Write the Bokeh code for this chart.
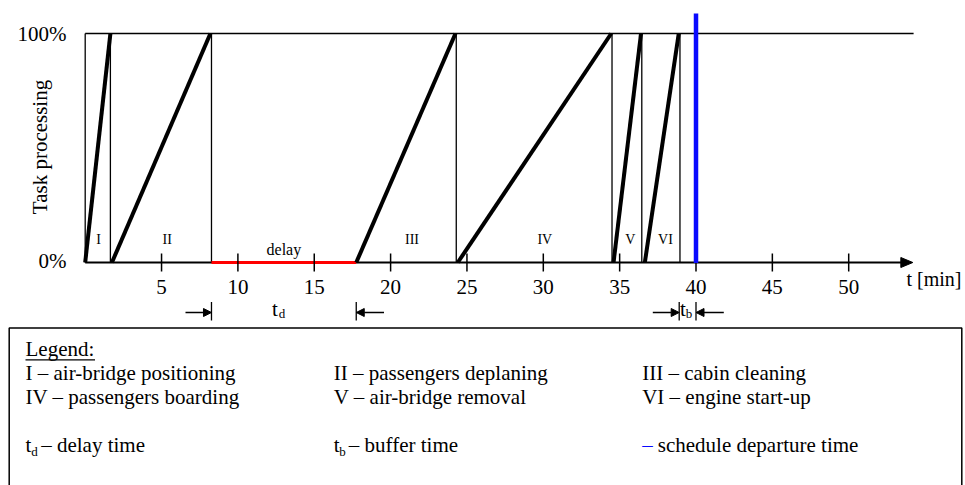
import math
from bokeh.plotting import figure
from bokeh.models import Range1d, Arrow, NormalHead
from bokeh.core.properties import value
from bokeh.embed import file_html
from bokeh.resources import INLINE

# ---------------- data ----------------
phase_labels = ["I", "II", "III", "IV", "V", "VI"]
phase_start = [0.0, 1.75, 17.75, 24.4, 34.6, 36.65]      # min, task begins (0 %)
phase_end = [1.65, 8.2, 24.25, 34.45, 36.4, 38.87]        # min, task completed (100 %)
phase_label_x = [0.87, 5.37, 21.4, 30.1, 35.7, 38.0]
phase_bounds = [0.0, 1.65, 8.27, 24.3, 34.5, 36.45, 38.95]
delay_start = 8.27
delay_end = 17.75
buffer_start = 38.9
departure_time = 40.0
x_ticks = [5, 10, 15, 20, 25, 30, 35, 40, 45, 50]
x_tick_labels = ["5", "10", "15", "20", "25", "30", "35", "40", "45", "50"]
y_ticks = [0, 100]
y_tick_labels = ["0%", "100%"]
axis_end = 54.2
x_axis_title = "t [min]"
y_axis_title = "Task processing"
legend_title = "Legend:"
legend_col1 = ["I \u2013 air-bridge positioning", "IV \u2013 passengers boarding"]
legend_col2 = ["II \u2013 passengers deplaning", "V \u2013 air-bridge removal"]
legend_col3 = ["III \u2013 cabin cleaning", "VI \u2013 engine start-up"]

# ---------------- layout helpers (page pixels -> plot units) ----------------
W, H = 965, 485
OX, OY = 0, 0            # page offset of the canvas
PX0, PXM = 84.7, 15.27   # page x of t=0, px per minute
PY0, PYP = 262.0, 2.29   # page y of 0 %, px per percent


def sx(px):
    return (px - PX0) / PXM


def sy(py):
    return (PY0 - py) / PYP


def ty(baseline_py, size):
    # centre line of a text whose alphabetic baseline is at baseline_py
    return sy(baseline_py - 0.39 * size)


FONT = value("Liberation Serif")
BLACK = "#000000"
BLUE = "#0a0aff"

p = figure(width=W, height=H, output_backend="svg", toolbar_location=None,
           x_range=Range1d(sx(OX), sx(OX + W)), y_range=Range1d(sy(OY + H), sy(OY)),
           x_axis_location=None, y_axis_location=None, min_border=0)
p.grid.visible = False
p.outline_line_color = None
p.background_fill_color = "white"
p.border_fill_color = "white"


def txt(xs, baselines, texts, size, align="left", color=BLACK, angle=0.0):
    p.text(x=xs, y=[ty(b, size) for b in baselines], text=texts, text_font=FONT,
           text_font_size=f"{size}px", text_align=align, text_baseline="middle",
           text_color=color, angle=angle)


# frame of task boxes
p.segment(x0=phase_bounds, y0=[0] * len(phase_bounds), x1=phase_bounds,
          y1=[100] * len(phase_bounds), line_color=BLACK, line_width=1.3)
p.segment(x0=[0], y0=[100], x1=[axis_end + 0.05], y1=[100], line_color=BLACK, line_width=1.5)

# x axis line with arrow
head_len = 12 / PXM
head_half = 5 / PYP
p.segment(x0=[0], y0=[0], x1=[axis_end - head_len + 0.1], y1=[0], line_color=BLACK, line_width=2)
p.patch(x=[axis_end - head_len, axis_end, axis_end - head_len],
        y=[head_half, 0, -head_half], fill_color=BLACK, line_color=BLACK, line_width=1)

# delay (red)
p.segment(x0=[delay_start], y0=[0], x1=[delay_end], y1=[0], line_color="#ff0000", line_width=3)

# ticks
tick_half = 9 / PYP
p.segment(x0=x_ticks, y0=[-tick_half] * len(x_ticks), x1=x_ticks, y1=[tick_half] * len(x_ticks),
          line_color=BLACK, line_width=1.5)

# task progress lines
p.segment(x0=phase_start, y0=[0] * 6, x1=phase_end, y1=[100] * 6, line_color=BLACK, line_width=4)

# scheduled departure (blue)
p.segment(x0=[departure_time], y0=[sy(262.5)], x1=[departure_time], y1=[sy(13)],
          line_color=BLUE, line_width=4.5)

# phase labels
txt(phase_label_x, [244] * 6, phase_labels, 14, align="center")
txt([(delay_start + delay_end) / 2], [255.7], ["delay"], 16, align="center")

# tick labels
txt(x_ticks, [295] * len(x_ticks), x_tick_labels, 21, align="center")
txt([sx(66)] * 2, [268.3, 41.7], y_tick_labels, 21, align="right")

# axis titles
p.text(x=[sx(47.3 - 0.36 * 21)], y=[sy(146.5)], text=[y_axis_title], angle=math.pi / 2,
       text_font=FONT, text_font_size="21px", text_align="center", text_baseline="middle",
       text_color=BLACK)
txt([sx(906)], [286], [x_axis_title], 20)

# t_d and t_b markers below axis
bar_x = [delay_start, delay_end, buffer_start, departure_time]
p.segment(x0=bar_x, y0=[sy(301.5)] * 4, x1=bar_x, y1=[sy(320)] * 4, line_color=BLACK, line_width=1.3)
arrow_y = sy(312)
for xs, xe in [(sx(185), delay_start), (sx(383.5), delay_end),
               (sx(652.3), buffer_start), (sx(723.3), departure_time)]:
    p.add_layout(Arrow(end=NormalHead(size=8, fill_color=BLACK, line_color=BLACK, line_width=1),
                       x_start=xs, y_start=arrow_y, x_end=xe, y_end=arrow_y,
                       line_color=BLACK, line_width=1.5))
txt([sx(271.5), sx(679.5)], [316.5] * 2, ["t", "t"], 21)
txt([sx(278.3), sx(685.3)], [318.5] * 2, ["d", "b"], 13)

# legend box (top, left, right borders; bottom lies below the window)
p.multi_line(xs=[[sx(8.7), sx(8.7), sx(961.3), sx(961.3)]],
             ys=[[sy(OY + H + 5), sy(327.5), sy(327.5), sy(OY + H + 5)]],
             line_color=BLACK, line_width=1.5)

txt([sx(25)], [356.7], [legend_title], 21)
p.segment(x0=[sx(25)], y0=[sy(359.3)], x1=[sx(94.5)], y1=[sy(359.3)], line_color=BLACK, line_width=1.2)

for col_x, items in [(25, legend_col1), (333.3, legend_col2), (641.7, legend_col3)]:
    txt([sx(col_x)] * 2, [380.7, 405], items, 21)

txt([sx(25), sx(333.3)], [453, 453], ["t", "t"], 21)
txt([sx(30.7), sx(338.8)], [456, 456], ["d", "b"], 13)
txt([sx(40.7), sx(348.3), sx(657.3)], [453] * 3,
    ["\u2013 delay time", "\u2013 buffer time", "schedule departure time"], 21)
txt([sx(641.7)], [453], ["\u2013"], 21, color=BLUE)

open("out.html", "w").write(file_html(p, INLINE))
